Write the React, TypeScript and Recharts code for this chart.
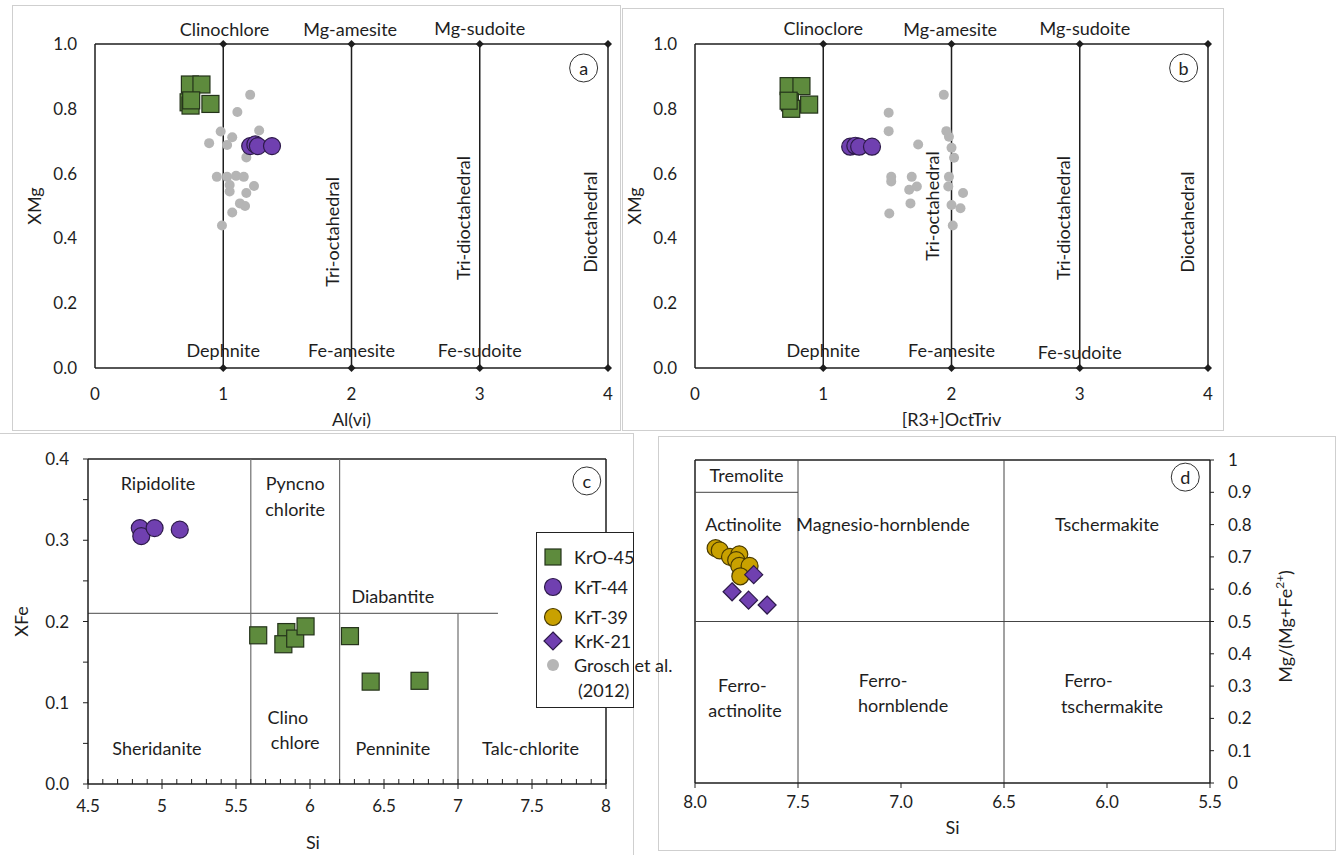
import React from "react";
import {
  ScatterChart,
  Scatter,
  XAxis,
  YAxis,
  ReferenceLine,
  ReferenceDot,
  Legend,
} from "recharts";

const FONT = "Lato, 'Open Sans', sans-serif";
const INK = "#1e1e1e";
const NOTE_SIZE = 18;
const TICK_SIZE = 17;

// ---------- panel a: Al(vi) vs XMg
const aKrO45 = [
  { x: 0.74, y: 0.875 },
  { x: 0.83, y: 0.875 },
  { x: 0.73, y: 0.82 },
  { x: 0.745, y: 0.81 },
  { x: 0.75, y: 0.826 },
  { x: 0.9, y: 0.815 },
];
const aKrT44 = [
  { x: 1.21, y: 0.685 },
  { x: 1.25, y: 0.69 },
  { x: 1.27, y: 0.685 },
  { x: 1.38, y: 0.685 },
];
const aGrosch = [
  { x: 1.21, y: 0.843 }, { x: 1.11, y: 0.79 }, { x: 0.98, y: 0.73 },
  { x: 1.28, y: 0.733 }, { x: 1.07, y: 0.712 }, { x: 0.89, y: 0.694 },
  { x: 1.03, y: 0.688 }, { x: 1.18, y: 0.65 }, { x: 0.95, y: 0.59 },
  { x: 1.03, y: 0.59 }, { x: 1.1, y: 0.593 }, { x: 1.16, y: 0.59 },
  { x: 1.05, y: 0.565 }, { x: 1.24, y: 0.562 }, { x: 1.05, y: 0.545 },
  { x: 1.18, y: 0.54 }, { x: 1.13, y: 0.508 }, { x: 1.17, y: 0.5 },
  { x: 1.07, y: 0.48 }, { x: 0.99, y: 0.44 },
];

// ---------- panel b: [R3+]OctTriv vs XMg
const bKrO45 = [
  { x: 0.73, y: 0.87 },
  { x: 0.83, y: 0.87 },
  { x: 0.74, y: 0.82 },
  { x: 0.75, y: 0.8 },
  { x: 0.73, y: 0.825 },
  { x: 0.89, y: 0.813 },
];
const bKrT44 = [
  { x: 1.21, y: 0.683 },
  { x: 1.25, y: 0.686 },
  { x: 1.28, y: 0.683 },
  { x: 1.38, y: 0.683 },
];
const bGrosch = [
  { x: 1.94, y: 0.843 }, { x: 1.51, y: 0.788 }, { x: 1.51, y: 0.731 },
  { x: 1.96, y: 0.731 }, { x: 1.98, y: 0.714 }, { x: 1.74, y: 0.69 },
  { x: 2.0, y: 0.68 }, { x: 2.02, y: 0.649 }, { x: 1.53, y: 0.59 },
  { x: 1.69, y: 0.59 }, { x: 1.53, y: 0.576 }, { x: 1.73, y: 0.56 },
  { x: 1.98, y: 0.59 }, { x: 1.975, y: 0.56 }, { x: 1.67, y: 0.55 },
  { x: 2.09, y: 0.54 }, { x: 1.68, y: 0.508 }, { x: 2.0, y: 0.503 },
  { x: 2.07, y: 0.493 }, { x: 1.515, y: 0.477 }, { x: 2.01, y: 0.44 },
];

// ---------- panel c: Si vs XFe
const cKrO45 = [
  { x: 5.65, y: 0.183 }, { x: 5.84, y: 0.187 }, { x: 5.82, y: 0.172 },
  { x: 5.9, y: 0.179 }, { x: 5.97, y: 0.194 }, { x: 6.27, y: 0.182 },
  { x: 6.41, y: 0.126 }, { x: 6.74, y: 0.127 },
];
const cKrT44 = [
  { x: 4.85, y: 0.315 }, { x: 4.86, y: 0.305 },
  { x: 4.95, y: 0.315 }, { x: 5.12, y: 0.313 },
];

// ---------- panel d: amphibole Si vs Mg/(Mg+Fe2+)
const dKrT39 = [
  { x: 7.9, y: 0.727 }, { x: 7.88, y: 0.72 }, { x: 7.83, y: 0.7 },
  { x: 7.785, y: 0.708 }, { x: 7.8, y: 0.69 }, { x: 7.785, y: 0.672 },
  { x: 7.735, y: 0.672 }, { x: 7.78, y: 0.64 },
];
const dKrK21 = [
  { x: 7.715, y: 0.645 }, { x: 7.82, y: 0.592 },
  { x: 7.74, y: 0.566 }, { x: 7.65, y: 0.551 },
];

// ---------- ticks
const abXTicks = [0, 1, 2, 3, 4];
const abYTicks = [0, 0.2, 0.4, 0.6, 0.8, 1];
const cXMajor = [4.5, 5, 5.5, 6, 6.5, 7, 7.5, 8];
const cYTicks = [0, 0.05, 0.1, 0.15, 0.2, 0.25, 0.3, 0.35, 0.4];
const dXTicks = [5.5, 6, 6.5, 7, 7.5, 8];
const dYTicks = [0, 0.1, 0.2, 0.3, 0.4, 0.5, 0.6, 0.7, 0.8, 0.9, 1];

// chlorite end-member columns in a and b
const abNodes = [1, 2, 3, 4];

const aNotes = [
  { t: "Clinochlore", x: 1.01, y: 1.045 },
  { t: "Mg-amesite", x: 1.99, y: 1.045 },
  { t: "Mg-sudoite", x: 3.0, y: 1.05 },
  { t: "Dephnite", x: 1.0, y: 0.056 },
  { t: "Fe-amesite", x: 2.0, y: 0.056 },
  { t: "Fe-sudoite", x: 3.0, y: 0.056 },
  { t: "Tri-octahedral", x: 1.85, y: 0.42, rot: true },
  { t: "Tri-dioctahedral", x: 2.87, y: 0.463, rot: true },
  { t: "Dioctahedral", x: 3.86, y: 0.45, rot: true },
];
const bNotes = [
  { t: "Clinoclore", x: 1.0, y: 1.05 },
  { t: "Mg-amesite", x: 1.99, y: 1.045 },
  { t: "Mg-sudoite", x: 3.04, y: 1.05 },
  { t: "Dephnite", x: 1.0, y: 0.056 },
  { t: "Fe-amesite", x: 2.0, y: 0.056 },
  { t: "Fe-sudoite", x: 3.0, y: 0.05 },
  { t: "Tri-octahedral", x: 1.85, y: 0.5, rot: true },
  { t: "Tri-dioctahedral", x: 2.87, y: 0.463, rot: true },
  { t: "Dioctahedral", x: 3.84, y: 0.45, rot: true },
];
const cNotes = [
  { t: "Ripidolite", x: 4.973, y: 0.37 },
  { t: "Pyncno", x: 5.9, y: 0.37 },
  { t: "chlorite", x: 5.9, y: 0.338 },
  { t: "Diabantite", x: 6.56, y: 0.231 },
  { t: "Sheridanite", x: 4.966, y: 0.044 },
  { t: "Clino", x: 5.85, y: 0.082 },
  { t: "chlore", x: 5.9, y: 0.052 },
  { t: "Penninite", x: 6.56, y: 0.044 },
  { t: "Talc-chlorite", x: 7.49, y: 0.044 },
  { t: "Si", x: 6.02, y: -0.071 },
];
const dNotes = [
  { t: "Tremolite", x: 7.75, y: 0.953 },
  { t: "Actinolite", x: 7.765, y: 0.802 },
  { t: "Magnesio-hornblende", x: 7.087, y: 0.802 },
  { t: "Tschermakite", x: 6.0, y: 0.802 },
  { t: "Ferro-", x: 7.77, y: 0.304 },
  { t: "actinolite", x: 7.757, y: 0.227 },
  { t: "Ferro-", x: 7.087, y: 0.32 },
  { t: "hornblende", x: 6.99, y: 0.242 },
  { t: "Ferro-", x: 6.09, y: 0.32 },
  { t: "tschermakite", x: 5.976, y: 0.239 },
];

// ---------- marker shapes
const GREEN = "#5e8b3d";
const PURPLE = "#7040b0";
const GOLD = "#c9a100";

const squareShape = (p: any) => (
  <rect x={p.cx - 8.5} y={p.cy - 8.5} width={17} height={17} fill={GREEN} stroke="#24331a" strokeWidth={1.2} />
);
const purpleDot = (p: any) => (
  <circle cx={p.cx} cy={p.cy} r={8.5} fill={PURPLE} stroke="#2d1a4a" strokeWidth={1.2} />
);
const goldDot = (p: any) => (
  <circle cx={p.cx} cy={p.cy} r={8.5} fill={GOLD} stroke="#4a3b00" strokeWidth={1.2} />
);
const diamondShape = (p: any) => (
  <polygon
    points={`${p.cx},${p.cy - 9} ${p.cx + 9},${p.cy} ${p.cx},${p.cy + 9} ${p.cx - 9},${p.cy}`}
    fill={PURPLE}
    stroke="#2d1a4a"
    strokeWidth={1.2}
  />
);
const grayDot = (p: any) => <circle cx={p.cx} cy={p.cy} r={5} fill="#b5b5b5" />;

function note(key: string, n: { t: string; x: number; y: number; rot?: boolean }) {
  return (
    <ReferenceDot
      key={key}
      x={n.x}
      y={n.y}
      r={0}
      ifOverflow="visible"
      shape={(p: any) => (
        <text
          x={p.cx}
          y={p.cy}
          textAnchor="middle"
          dominantBaseline="central"
          fontSize={NOTE_SIZE}
          fill={INK}
          transform={n.rot ? `rotate(-90 ${p.cx} ${p.cy})` : undefined}
        >
          {n.t}
        </text>
      )}
    />
  );
}

function badge(letter: string, x: number, y: number) {
  return (
    <ReferenceDot
      key={"badge" + letter}
      x={x}
      y={y}
      r={0}
      ifOverflow="visible"
      shape={(p: any) => (
        <g>
          <circle cx={p.cx} cy={p.cy} r={14} fill="#fff" stroke="#333" strokeWidth={1} />
          <text x={p.cx} y={p.cy} textAnchor="middle" dominantBaseline="central" fontSize={NOTE_SIZE} fill={INK}>
            {letter}
          </text>
        </g>
      )}
    />
  );
}

function nodeDot(key: string, x: number, y: number) {
  return (
    <ReferenceDot
      key={key}
      x={x}
      y={y}
      r={0}
      ifOverflow="visible"
      shape={(p: any) => (
        <polygon
          points={`${p.cx},${p.cy - 4} ${p.cx + 4},${p.cy} ${p.cx},${p.cy + 4} ${p.cx - 4},${p.cy}`}
          fill={INK}
        />
      )}
    />
  );
}

const tickStyle = { fill: INK, fontSize: TICK_SIZE };

function ChloritePanel(props: {
  left: number;
  top: number;
  width: number;
  height: number;
  margin: any;
  yWidth: number;
  xLabel: string;
  letter: string;
  kro: any[];
  krt: any[];
  grosch: any[];
  notes: any[];
}) {
  const { left, top, width, height, margin, yWidth, xLabel, letter, kro, krt, grosch, notes } = props;
  return (
    <div style={{ position: "absolute", left, top }}>
      <ScatterChart width={width} height={height} margin={margin}>
        <XAxis
          type="number"
          dataKey="x"
          domain={[0, 4]}
          ticks={abXTicks}
          interval={0}
          axisLine={false}
          tickLine={false}
          tickSize={0}
          tickMargin={20}
          tick={tickStyle}
          height={60}
          label={{ value: xLabel, position: "insideBottom", offset: 2, fill: INK, fontSize: NOTE_SIZE }}
        />
        <YAxis
          type="number"
          dataKey="y"
          domain={[0, 1]}
          ticks={abYTicks}
          interval={0}
          axisLine={false}
          tickLine={false}
          tickSize={0}
          tickMargin={18}
          tick={tickStyle}
          tickFormatter={(v: number) => v.toFixed(1)}
          width={yWidth}
          label={{
            value: "XMg",
            angle: -90,
            position: "insideLeft",
            offset: yWidth - 60,
            fill: INK,
            fontSize: NOTE_SIZE,
            style: { textAnchor: "middle" },
          }}
        />
        <ReferenceLine x={0} stroke={INK} strokeWidth={1.5} />
        <ReferenceLine y={0} stroke={INK} strokeWidth={1.5} />
        <ReferenceLine y={1} stroke={INK} strokeWidth={1.5} />
        {abNodes.map((v) => (
          <ReferenceLine key={"v" + v} x={v} stroke={INK} strokeWidth={1.5} />
        ))}
        {abNodes.map((v) => nodeDot("n0" + v, v, 0))}
        {abNodes.map((v) => nodeDot("n1" + v, v, 1))}
        {notes.map((n, i) => note("n" + i, n))}
        {badge(letter, 3.81, 0.926)}
        <Scatter name="Grosch et al. (2012)" data={grosch} shape={grayDot} isAnimationActive={false} />
        <Scatter name="KrO-45" data={kro} shape={squareShape} isAnimationActive={false} />
        <Scatter name="KrT-44" data={krt} shape={purpleDot} isAnimationActive={false} />
      </ScatterChart>
    </div>
  );
}

const legendRows = [
  { name: "KrO-45", icon: "square" },
  { name: "KrT-44", icon: "circle" },
  { name: "KrT-39", icon: "gold" },
  { name: "KrK-21", icon: "diamond" },
  { name: "Grosch et al. (2012)", icon: "gray" },
];
const legendTops = [13, 43, 73, 97, 121];

function LegendIcon({ icon }: { icon: string }) {
  const c = 10;
  return (
    <svg width={20} height={20} style={{ position: "absolute", left: 6, top: 1 }}>
      {icon === "square" && <rect x={2} y={2} width={16} height={16} fill={GREEN} stroke="#24331a" strokeWidth={1.2} />}
      {icon === "circle" && <circle cx={c} cy={c} r={8.5} fill={PURPLE} stroke="#2d1a4a" strokeWidth={1.2} />}
      {icon === "gold" && <circle cx={c} cy={c} r={8.5} fill={GOLD} stroke="#4a3b00" strokeWidth={1.2} />}
      {icon === "diamond" && (
        <polygon points="10,1 19,10 10,19 1,10" fill={PURPLE} stroke="#2d1a4a" strokeWidth={1.2} />
      )}
      {icon === "gray" && <circle cx={c} cy={c} r={6} fill="#b5b5b5" />}
    </svg>
  );
}

function LegendBox() {
  return (
    <div
      style={{
        position: "relative",
        width: 96,
        height: 174,
        border: "1px solid #222",
        background: "#fff",
        fontSize: NOTE_SIZE,
        color: INK,
        fontFamily: FONT,
        overflow: "visible",
      }}
    >
      {legendRows.map((r, i) => (
        <div key={r.name} style={{ position: "absolute", left: 0, top: legendTops[i], width: 160, height: 22 }}>
          <LegendIcon icon={r.icon} />
          <div style={{ position: "absolute", left: 37, top: 0, lineHeight: "22px", width: 130 }}>
            {r.icon === "gray" ? (
              <>
                <div style={{ whiteSpace: "nowrap" }}>Grosch et al.</div>
                <div style={{ paddingLeft: 4, marginTop: 3 }}>(2012)</div>
              </>
            ) : (
              r.name
            )}
          </div>
        </div>
      ))}
    </div>
  );
}

function renderCTick(p: any) {
  const v = p.payload.value;
  const major = Math.abs(v * 2 - Math.round(v * 2)) < 1e-6;
  return (
    <g>
      <line x1={p.x} x2={p.x} y1={p.y - 5} y2={major ? p.y + 5 : p.y} stroke={INK} strokeWidth={1} />
      {major && (
        <text x={p.x} y={p.y + 28} textAnchor="middle" fontSize={TICK_SIZE} fill={INK}>
          {String(v)}
        </text>
      )}
    </g>
  );
}

const cXTicks: number[] = [];
cXMajor.forEach((m, i) => {
  cXTicks.push(m);
  if (i < cXMajor.length - 1) [0.1, 0.2, 0.3, 0.4].forEach((d) => cXTicks.push(Math.round((m + d) * 10) / 10));
});

function PanelC() {
  return (
    <div style={{ position: "absolute", left: 0, top: 433 }}>
      <ScatterChart width={633} height={422} margin={{ top: 26, right: 27, bottom: 5, left: 8 }}>
        <XAxis
          type="number"
          dataKey="x"
          domain={[4.5, 8]}
          ticks={cXTicks}
          interval={0}
          axisLine={{ stroke: INK, strokeWidth: 1.5 }}
          tickLine={false}
          tickSize={0}
          tickMargin={0}
          tick={renderCTick}
          height={66}
        />
        <YAxis
          type="number"
          dataKey="y"
          domain={[0, 0.4]}
          ticks={cYTicks}
          interval={0}
          axisLine={{ stroke: INK, strokeWidth: 1.5 }}
          tickLine={{ stroke: INK }}
          tickSize={5}
          tickMargin={14}
          tick={tickStyle}
          tickFormatter={(v: number) => (Math.round(v * 100) % 10 === 0 ? v.toFixed(1) : "")}
          width={80}
          label={{
            value: "XFe",
            angle: -90,
            position: "insideLeft",
            offset: 14,
            fill: INK,
            fontSize: NOTE_SIZE,
            style: { textAnchor: "middle" },
          }}
        />
        <ReferenceLine y={0.4} stroke={INK} strokeWidth={1.5} />
        <ReferenceLine x={8} stroke={INK} strokeWidth={1.5} />
        <ReferenceLine x={5.6} stroke="#6e6e6e" strokeWidth={1.2} />
        <ReferenceLine x={6.2} stroke="#6e6e6e" strokeWidth={1.2} />
        <ReferenceLine segment={[{ x: 4.5, y: 0.21 }, { x: 7.27, y: 0.21 }]} stroke="#6e6e6e" strokeWidth={1.2} />
        <ReferenceLine segment={[{ x: 7, y: 0 }, { x: 7, y: 0.21 }]} stroke="#6e6e6e" strokeWidth={1.2} />
        {cNotes.map((n, i) => note("c" + i, n))}
        {badge("c", 7.87, 0.373)}
        <Scatter name="KrO-45" data={cKrO45} shape={squareShape} isAnimationActive={false} />
        <Scatter name="KrT-44" data={cKrT44} shape={purpleDot} isAnimationActive={false} />
        <Legend
          layout="vertical"
          align="center"
          verticalAlign="middle"
          wrapperStyle={{ left: 536, top: 99, width: 98, height: 176 }}
          content={() => <LegendBox />}
        />
      </ScatterChart>
    </div>
  );
}

function PanelD() {
  return (
    <div style={{ position: "absolute", left: 658, top: 436 }}>
      <ScatterChart width={677} height={414} margin={{ top: 24, right: 25, bottom: 5, left: 37 }}>
        <XAxis
          type="number"
          dataKey="x"
          domain={[5.5, 8]}
          reversed
          ticks={dXTicks}
          interval={0}
          axisLine={{ stroke: INK, strokeWidth: 1.5 }}
          tickLine={{ stroke: INK }}
          tickSize={5}
          tickMargin={8}
          tick={tickStyle}
          tickFormatter={(v: number) => v.toFixed(1)}
          height={62}
          label={{ value: "Si", position: "insideBottom", offset: 11, fill: INK, fontSize: NOTE_SIZE }}
        />
        <YAxis
          type="number"
          dataKey="y"
          orientation="right"
          domain={[0, 1]}
          ticks={dYTicks}
          interval={0}
          axisLine={{ stroke: INK, strokeWidth: 1.5 }}
          tickLine={{ stroke: INK }}
          tickSize={4}
          tickMargin={14}
          tick={tickStyle}
          width={100}
        />
        <ReferenceLine y={1} stroke={INK} strokeWidth={1.5} />
        <ReferenceLine x={8} stroke={INK} strokeWidth={1.5} />
        <ReferenceLine x={7.5} stroke="#444" strokeWidth={1} />
        <ReferenceLine x={6.5} stroke="#444" strokeWidth={1} />
        <ReferenceLine y={0.5} stroke="#444" strokeWidth={1} />
        <ReferenceLine segment={[{ x: 8, y: 0.9 }, { x: 7.5, y: 0.9 }]} stroke="#444" strokeWidth={1} />
        {dNotes.map((n, i) => note("d" + i, n))}
        {badge("d", 5.62, 0.947)}
        <ReferenceDot
          x={5.136}
          y={0.485}
          r={0}
          ifOverflow="visible"
          shape={(p: any) => (
            <text
              x={p.cx}
              y={p.cy}
              textAnchor="middle"
              dominantBaseline="central"
              fontSize={NOTE_SIZE}
              fill={INK}
              transform={`rotate(-90 ${p.cx} ${p.cy})`}
            >
              Mg/(Mg+Fe
              <tspan dy={-6} fontSize={12}>
                2+
              </tspan>
              <tspan dy={6}>)</tspan>
            </text>
          )}
        />
        <Scatter name="KrT-39" data={dKrT39} shape={goldDot} isAnimationActive={false} />
        <Scatter name="KrK-21" data={dKrK21} shape={diamondShape} isAnimationActive={false} />
      </ScatterChart>
    </div>
  );
}

const frame = (left: number, top: number, width: number, height: number) => (
  <div
    style={{
      position: "absolute",
      left,
      top,
      width,
      height,
      border: "1px solid #cfcfcf",
      boxSizing: "border-box",
    }}
  />
);

export default function App() {
  return (
    <div
      style={{
        position: "absolute",
        left: 0,
        top: 0,
        width: 1343,
        height: 855,
        background: "#fff",
        fontFamily: FONT,
        overflow: "hidden",
      }}
    >
      {frame(12, 5, 609, 426)}
      {frame(622, 8, 602, 423)}
      {frame(-1, 433, 635, 430)}
      {frame(658, 436, 678, 415)}
      <ChloritePanel
        left={12}
        top={5}
        width={608}
        height={425}
        margin={{ top: 39, right: 12, bottom: 2, left: 6 }}
        yWidth={77}
        xLabel="Al(vi)"
        letter="a"
        kro={aKrO45}
        krt={aKrT44}
        grosch={aGrosch}
        notes={aNotes}
      />
      <ChloritePanel
        left={622}
        top={8}
        width={601}
        height={422}
        margin={{ top: 36, right: 15, bottom: 2, left: 2 }}
        yWidth={71}
        xLabel="[R3+]OctTriv"
        letter="b"
        kro={bKrO45}
        krt={bKrT44}
        grosch={bGrosch}
        notes={bNotes}
      />
      <PanelC />
      <PanelD />
    </div>
  );
}
